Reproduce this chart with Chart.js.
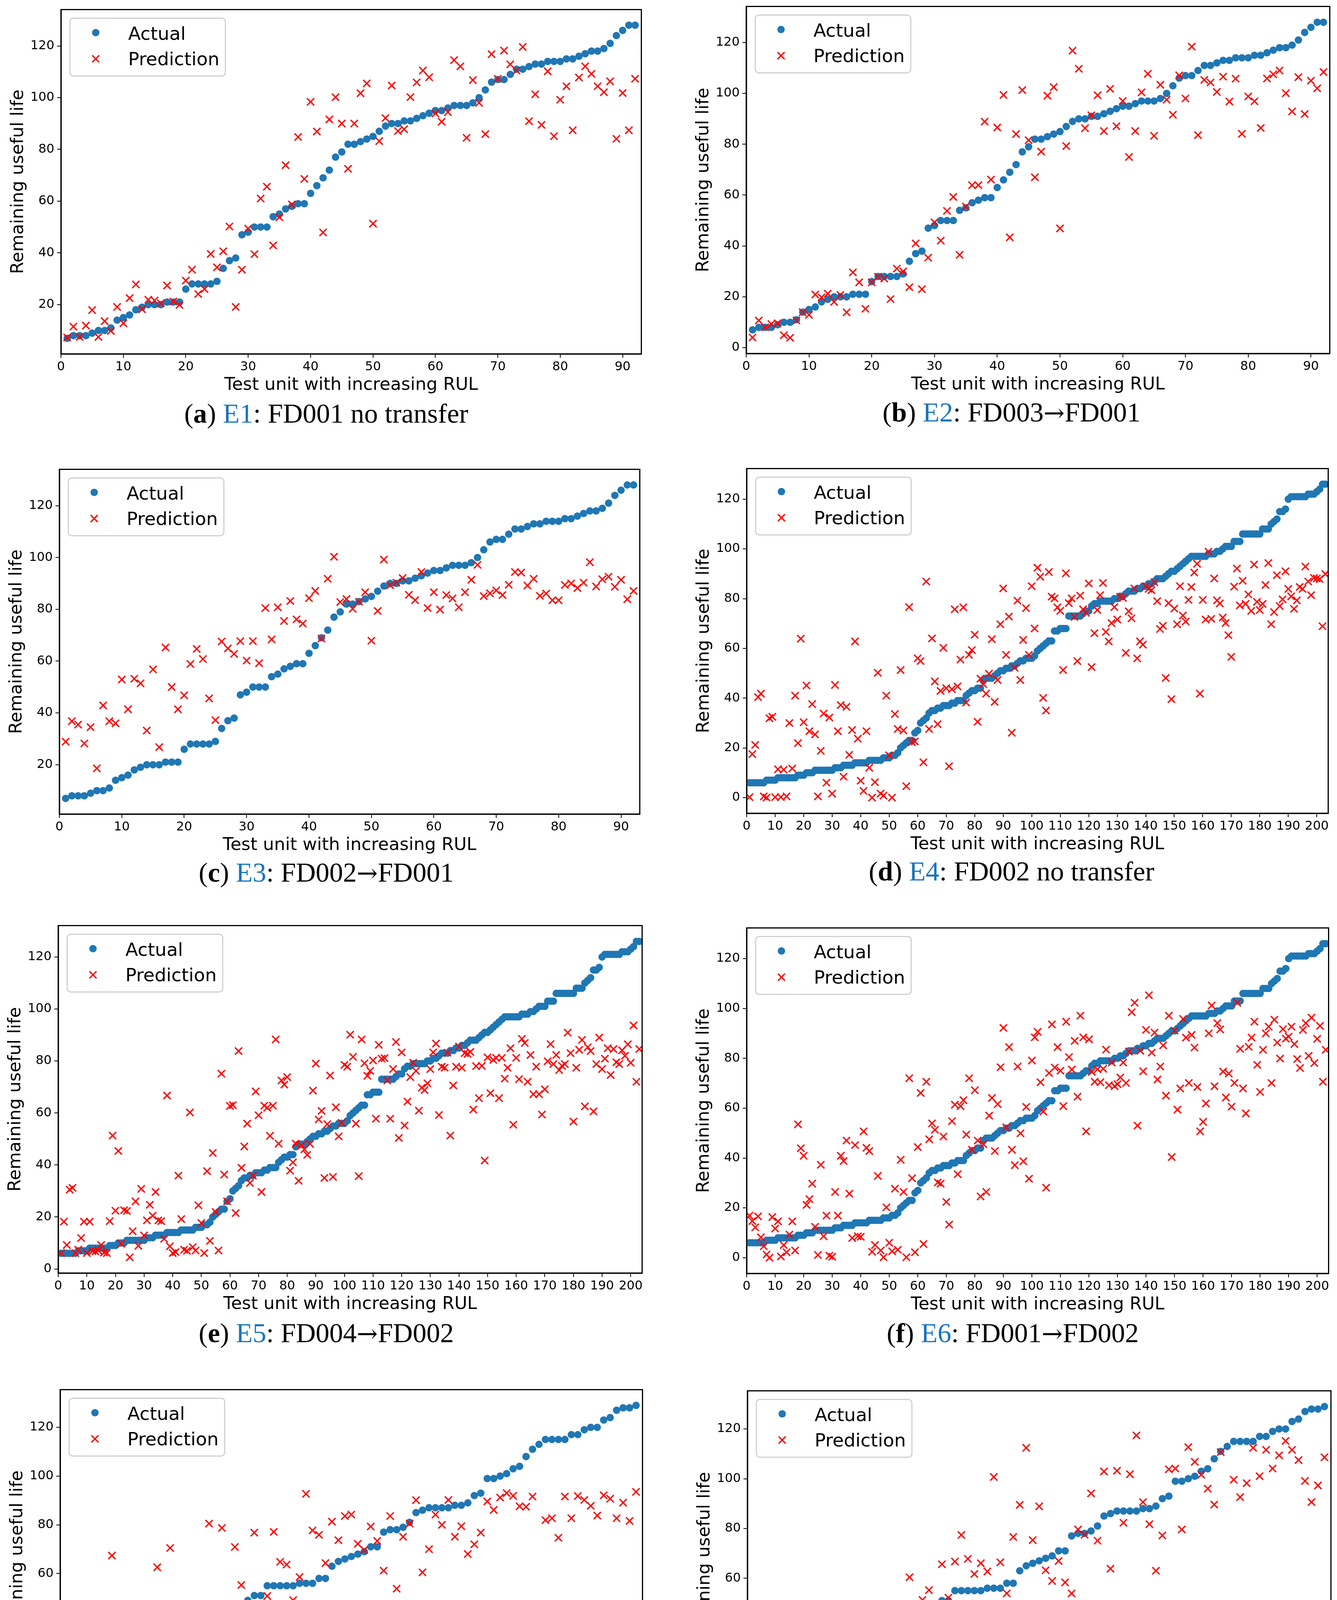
<!DOCTYPE html>
<html>
<head>
<meta charset="utf-8">
<script src="https://cdn.jsdelivr.net/npm/chart.js@4.4.1/dist/chart.umd.min.js"></script>
<style>
html, body { margin: 0; padding: 0; background: #fff; }
body { position: relative; width: 3422px; height: 4661px; overflow: hidden; }
canvas { position: absolute; }
.cap { position: absolute; transform: translate(-50%, -50%); font-family: "Liberation Serif", serif; font-size: 70px; color: #000; white-space: nowrap; }
.cap .ref { color: #1874bd; }
.cap .arr { font-family: "DejaVu Serif", serif; font-size: 0.92em; }
</style>
</head>
<body>
<script>
// FD001 test units (92), sorted by true RUL
const actualFD001 = [7,8,8,8,9,10,10,11,14,15, 16,18,19,20,20,20,21,21,21,26,
  28,28,28,28,29,34,37,38,47,48, 50,50,50,54,55,57,58,59,59,63,
  66,69,72,77,79,82,82,83,84,85, 87,89,90,90,91,91,92,93,94,95,
  95,96,97,97,97,98,100,103,106,107, 107,109,111,111,112,113,113,114,114,114,
  115,115,116,117,118,118,119,121,124,126, 128,128];

const predE1 = [7.3,11.5,7.5,11.9,17.9,7.5,13.6,9.8,19.1,12.8,
  22.5,27.8,18.2,21.9,21.6,20.5,27.4,21.2,19.9,29.3,
  33.5,24.1,26.0,39.6,34.4,40.6,50.2,19.1,33.5,49.4,
  39.5,61.0,65.6,42.9,53.8,73.9,58.7,84.8,68.6,98.4,
  86.9,47.9,91.6,100.2,90.0,72.5,90.0,101.7,105.5,51.3,
  83.2,92.1,104.7,87.1,87.8,100.2,105.9,110.5,107.9,93.9,
  90.7,94.4,114.5,112.1,84.5,106.8,98.0,85.9,116.8,107.3,
  118.2,112.9,110.5,119.6,90.9,101.3,89.5,110.2,85.1,99.2,
  104.4,87.4,107.8,112.1,109.2,104.4,102.1,106.3,84.1,101.8,
  87.4,107.3];

const predE2 = [4.0,10.7,8.0,9.3,9.6,4.9,3.9,10.7,13.9,12.9,
  20.9,19.8,21.2,18.0,20.7,13.9,29.6,25.7,15.3,25.7,
  27.9,27.2,19.1,31.1,30.0,23.8,41.0,23.0,35.4,49.3,
  42.1,53.8,59.3,36.5,55.5,63.9,63.9,88.9,66.1,86.6,
  99.4,43.4,84.0,101.3,81.6,67.0,77.1,99.1,102.5,46.9,
  79.3,116.8,109.7,86.3,91.4,99.3,85.2,101.8,87.1,97.0,
  75.0,85.2,100.4,107.7,83.3,103.4,97.5,91.6,107.1,98.0,
  118.4,83.6,105.3,104.3,100.6,106.6,96.8,105.8,84.1,98.8,
  96.9,86.4,105.9,107.5,109.0,100.1,92.9,106.4,91.9,105.0,
  102.0,108.4];

const predE3 = [28.9,36.8,35.5,28.2,34.5,18.6,42.9,36.8,36.0,52.9,
  41.4,53.2,51.4,33.2,56.8,26.8,65.3,50.0,41.4,46.8,
  58.9,64.7,60.8,45.6,37.2,67.6,64.9,62.8,67.7,60.2,
  67.7,59.2,80.5,68.4,80.8,75.5,83.2,76.1,74.5,84.3,
  87.1,68.7,91.8,100.3,82.8,84.0,80.2,82.9,86.6,67.9,
  79.4,99.2,89.3,90.3,92.1,85.6,83.5,94.4,80.5,86.6,
  79.9,85.5,84.2,80.8,86.6,91.4,97.2,85.1,86.2,87.3,
  85.5,89.5,94.4,94.2,89.2,91.8,85.2,86.1,83.5,83.5,
  89.4,90.0,88.2,90.3,98.2,88.8,91.6,92.6,88.7,91.4,
  83.9,87.1];

// FD002 test units (203)
const actualFD002 = [6,6,6,6,6,6,7,7,7,7,
  8,8,8,8,8,8,8,9,9,9,
  10,10,10,11,11,11,11,11,11,11,
  12,12,12,13,13,13,13,14,14,14,
  14,14,15,15,15,15,15,16,16,16,
  17,17,18,20,21,22,23,23,26,27,
  30,31,32,34,35,35,36,36,37,37,
  37,38,38,39,39,39,41,42,43,43,
  44,44,47,48,48,48,49,50,51,51,
  52,52,53,53,54,55,55,56,56,56,
  57,59,60,61,62,63,63,67,67,68,
  68,68,73,73,73,73,73,74,75,75,
  77,78,78,79,79,79,79,79,80,80,
  81,81,82,83,83,83,84,84,85,85,
  86,86,87,88,88,88,89,90,91,91,
  92,93,94,95,96,97,97,97,97,97,
  97,98,98,98,99,99,100,101,101,101,
  103,103,103,106,106,106,106,106,106,106,
  108,108,108,110,111,112,115,115,116,120,
  121,121,121,121,121,121,122,122,122,123,
  124,126,126];

const predE4 = [0.2,17.5,21.2,40.4,41.8,0.5,0,31.9,32.5,0.2,
  11.4,0.2,11.2,0.5,30.0,11.7,41.0,21.9,63.9,30.3,
  45.1,26.7,37.6,25.4,0.5,18.8,33.8,6.0,32.2,1.6,
  45.3,26.7,37.2,8.4,36.5,17.2,27.2,62.8,23.7,6.8,
  2.7,26.7,12.0,0,6.2,50.2,1.6,0.8,41.0,17.0,
  0,33.6,27.6,51.3,27.0,4.6,76.6,22.3,22.6,56.0,
  54.9,14.2,86.9,27.6,64.0,46.7,29.5,42.9,60.2,44.0,
  12.6,43.6,75.7,44.7,55.5,76.5,38.2,57.4,59.3,65.5,
  30.5,47.8,45.6,41.8,49.8,63.7,38.5,47.3,69.7,84.1,
  57.4,72.8,26.1,52.2,79.2,47.3,63.4,76.2,57.4,85.0,
  68.0,92.4,88.8,40.1,35.0,90.7,80.8,80.1,76.5,75.1,
  51.3,90.2,78.2,80.1,72.6,54.9,81.2,75.7,74.3,86.1,
  52.5,66.1,75.4,81.4,86.3,66.6,62.8,70.2,76.6,71.6,
  80.8,80.3,58.2,74.9,72.1,84.1,56.0,62.8,61.5,85.0,
  83.9,83.4,86.6,79.0,67.8,69.1,48.1,78.2,39.6,76.0,
  69.7,85.0,73.2,70.8,79.5,84.7,90.5,94.0,41.8,79.5,
  71.6,98.9,71.9,88.1,79.3,78.1,72.4,70.2,65.3,56.6,
  84.8,92.1,77.3,87.2,77.9,81.7,75.1,93.7,78.7,75.4,
  77.9,85.5,94.3,69.7,74.6,89.4,77.0,79.7,91.0,83.9,
  80.9,75.9,79.3,84.7,83.9,92.9,86.9,81.4,88.3,88.1,
  87.9,68.9,89.9];

const predE5 = [6.1,18.2,9.2,30.5,31.2,6.1,7.4,11.9,18.2,6.1,
  18.2,6.8,6.8,7.1,9.2,6.3,6.1,18.4,51.3,22.4,
  45.4,9.7,22.6,22.3,4.5,14.5,26.0,8.9,30.8,12.9,
  18.7,24.7,20.5,29.6,18.7,18.4,11.6,66.7,8.7,6.1,
  6.5,35.9,19.2,7.4,7.0,60.2,8.4,7.1,24.5,17.7,
  6.1,37.6,10.8,44.6,21.9,7.1,75.1,36.3,26.0,62.7,
  63.0,21.5,83.8,38.9,47.1,55.9,33.1,35.9,68.3,59.1,
  29.6,62.8,62.0,51.2,62.8,88.3,48.2,72.5,70.9,73.8,
  37.8,41.0,48.2,33.9,47.5,46.0,43.9,48.1,68.6,79.0,
  57.5,60.8,35.0,55.7,74.4,35.4,62.2,51.0,56.2,78.5,
  77.8,90.1,81.6,55.9,35.7,88.3,79.1,74.3,76.2,80.2,
  57.8,86.2,80.9,81.1,72.5,57.8,76.9,87.3,50.4,83.3,
  55.2,64.4,73.8,79.3,76.2,60.9,69.7,68.8,71.4,76.9,
  83.3,86.7,59.2,77.8,77.4,83.2,51.3,70.6,77.8,85.6,
  77.4,83.0,82.7,83.5,61.3,78.0,65.7,78.1,41.7,81.4,
  67.6,80.4,81.2,65.7,81.2,73.2,77.4,84.9,55.5,81.2,
  73.0,88.5,86.9,72.0,82.3,67.2,77.8,67.2,59.4,69.1,
  79.9,86.5,78.8,82.3,76.5,78.1,78.8,90.9,83.0,56.7,
  77.4,84.3,88.1,62.5,85.3,83.8,60.6,78.8,89.0,76.9,
  80.9,84.9,74.6,84.6,79.5,78.8,84.1,82.0,86.4,79.3,
  93.7,72.0,84.6];

const predE6 = [16.9,14.7,12.2,16.6,8.2,4.6,1.3,0,16.3,11.7,
  14.6,0.5,5.1,2.2,9.3,14.6,2.9,53.5,43.9,40.9,
  21.2,23.5,29.7,12.4,1.1,37.3,8.6,16.9,0.8,0.4,
  26.4,16.9,40.9,38.8,47.0,25.7,7.9,45.2,8.6,8.4,
  50.7,44.1,42.8,2.4,5.1,32.8,2.9,0.2,20.2,6.0,
  2.6,27.7,3.2,39.3,26.4,0.2,72.0,31.9,2.2,44.4,
  66.1,5.5,70.6,47.5,53.9,51.3,30.2,29.7,48.6,22.4,
  13.3,54.8,61.4,33.5,60.8,63.2,49.4,72.0,43.3,67.2,
  47.0,24.6,45.5,26.4,57.0,64.1,42.8,61.6,76.4,92.2,
  52.3,84.5,43.3,37.1,76.7,49.9,38.7,60.5,31.7,79.1,
  88.4,90.6,70.4,58.6,28.1,74.1,93.6,76.3,84.5,75.0,
  60.8,94.7,80.5,75.5,87.0,64.6,97.1,88.4,50.7,87.6,
  74.5,70.6,75.6,70.4,75.8,83.5,69.2,78.3,68.8,69.6,
  72.3,78.3,70.1,82.7,98.5,102.3,53.0,83.0,74.8,91.4,
  105.3,82.3,90.3,71.5,76.7,85.2,65.0,97.1,40.4,91.1,
  59.4,67.9,95.8,88.3,70.1,89.4,84.3,68.5,50.7,54.5,
  61.9,90.0,101.2,68.8,94.1,91.6,74.7,64.3,73.9,60.6,
  70.1,102.3,83.8,67.9,57.9,84.6,88.3,94.7,77.4,66.5,
  83.4,90.0,92.7,70.1,95.5,86.3,79.9,91.7,87.9,88.7,
  92.7,85.7,79.7,76.1,91.4,94.1,81.0,96.3,78.1,87.8,
  93.0,70.6,83.4];

// FD003 test units (89)
const actualFD003 = [6,7,8,8,9,10,11,11,14,15,
  17,18,18,20,22,25,27,27,28,28,
  31,35,40,41,41,44,45,45,49,51,
  51,55,55,55,55,55,56,56,56,58,
  58,63,65,66,67,68,69,71,71,77,
  78,78,79,81,85,86,87,87,87,87,
  88,88,89,92,93,99,99,100,101,103,
  104,108,111,113,115,115,115,115,117,117,
  119,120,120,123,124,127,128,128,129];

const predE7 = [19.0,26.2,17.5,18.8,17.1,14.4,24.1,67.4,19.3,40.1,
  0,29.8,43.6,25.9,62.6,1.5,70.5,21.4,38.9,33.2,
  37.0,21.8,80.5,37.8,78.7,41.9,70.9,55.3,46.1,76.8,
  43.8,50.8,77.1,64.8,63.7,49.1,58.6,92.7,77.7,75.9,
  64.3,81.3,73.7,83.6,84.2,72.2,69.7,79.3,73.4,61.2,
  83.6,53.8,75.1,80.5,90.1,60.5,70.0,84.2,80.0,90.2,
  75.1,79.4,68.0,72.0,76.8,89.6,86.1,91.2,93.0,91.9,
  87.6,87.4,91.6,37.9,81.9,82.7,74.7,91.6,82.7,91.8,
  90.2,87.8,83.8,92.1,90.7,82.7,89.1,81.6,93.5];

const predE8 = [12.0,8.3,4.6,5.5,4.0,2.3,17.8,8.6,6.6,21.3,
  11.4,18.1,19.8,20.3,23.4,15.5,23.7,20.8,26.1,30.4,
  24.5,13.9,33.2,47.0,60.4,49.4,51.3,55.2,34.0,65.6,
  52.2,66.7,77.4,67.8,61.7,66.0,62.7,100.7,66.4,53.9,
  76.6,89.5,112.4,75.3,88.9,63.2,58.9,66.9,58.3,53.9,
  79.6,77.5,94.1,75.1,102.9,63.8,103.2,82.3,101.8,117.4,
  90.6,81.7,63.0,77.2,103.8,104.1,79.6,112.7,106.8,101.6,
  96.0,89.6,110.7,48.8,99.6,92.6,98.2,112.4,101.0,111.6,
  104.1,109.4,115.2,111.6,107.5,99.1,90.6,97.3,108.6];

const xTicksFD001 = [0,10,20,30,40,50,60,70,80,90];
const xTicksFD002 = [0,10,20,30,40,50,60,70,80,90,100,110,120,130,140,150,160,170,180,190,200];
const xTicksFD003 = [0,10,20,30,40,50,60,70,80];
const yTicks = [0,20,40,60,80,100,120];

const seriesNames = ['Actual', 'Prediction'];
const xTitle = 'Test unit with increasing RUL';
const yTitle = 'Remaining useful life';

// layout: plot area [left, top, right, bottom] and caption centre, in page pixels
const panels = [
  {tag: 'a', ref: 'E1', from: 'FD001', to: null, actual: actualFD001, pred: predE1, xt: xTicksFD001, area: [156, 20, 1644, 906], cap: [835, 1059]},
  {tag: 'b', ref: 'E2', from: 'FD003', to: 'FD001', actual: actualFD001, pred: predE2, xt: xTicksFD001, area: [1910, 12, 3406, 905], cap: [2589, 1056]},
  {tag: 'c', ref: 'E3', from: 'FD002', to: 'FD001', actual: actualFD001, pred: predE3, xt: xTicksFD001, area: [152, 1197, 1640, 2084], cap: [835, 2234]},
  {tag: 'd', ref: 'E4', from: 'FD002', to: null, actual: actualFD002, pred: predE4, xt: xTicksFD002, area: [1911, 1195, 3402, 2082], cap: [2589, 2231]},
  {tag: 'e', ref: 'E5', from: 'FD004', to: 'FD002', actual: actualFD002, pred: predE5, xt: xTicksFD002, area: [149, 2365, 1646, 3259], cap: [835, 3413]},
  {tag: 'f', ref: 'E6', from: 'FD001', to: 'FD002', actual: actualFD002, pred: predE6, xt: xTicksFD002, area: [1911, 2371, 3403, 3260], cap: [2592, 3413]},
  {tag: 'g', ref: 'E7', from: 'FD003', to: null, actual: actualFD003, pred: predE7, xt: xTicksFD003, area: [154, 3553, 1647, 4443], cap: [834, 4596]},
  {tag: 'h', ref: 'E8', from: 'FD001', to: 'FD003', actual: actualFD003, pred: predE8, xt: xTicksFD003, area: [1913, 3556, 3409, 4448], cap: [2592, 4593]}
];

const BLUE = '#1f77b4';
const RED = '#ff0000';
const YW = 150, XH = 112, PAD_T = 12, PAD_R = 14;

Chart.defaults.font.family = 'DejaVu Sans';
Chart.defaults.color = '#000';

// black box round the plot area
const frame = {
  id: 'frame',
  afterDraw(chart) {
    const a = chart.chartArea, ctx = chart.ctx;
    ctx.save();
    ctx.strokeStyle = '#000';
    ctx.lineWidth = 3;
    ctx.strokeRect(a.left, a.top, a.right - a.left, a.bottom - a.top);
    ctx.restore();
  }
};

// matplotlib-like legend inside the upper left corner
const legendBox = {
  id: 'legendBox',
  afterDatasetsDraw(chart) {
    const a = chart.chartArea, ctx = chart.ctx;
    const bx = a.left + 23, by = a.top + 22;
    ctx.save();
    ctx.beginPath();
    ctx.roundRect(bx, by, 398, 148, 9);
    ctx.fillStyle = 'rgba(255,255,255,0.8)';
    ctx.fill();
    ctx.lineWidth = 3;
    ctx.strokeStyle = '#d0d0d0';
    ctx.stroke();

    const mx = bx + 66;
    // Actual
    ctx.beginPath();
    ctx.arc(mx, by + 37, 9.5, 0, Math.PI * 2);
    ctx.fillStyle = BLUE;
    ctx.fill();
    // Prediction
    const cy = by + 104, h = 9;
    ctx.beginPath();
    ctx.moveTo(mx - h, cy - h); ctx.lineTo(mx + h, cy + h);
    ctx.moveTo(mx - h, cy + h); ctx.lineTo(mx + h, cy - h);
    ctx.strokeStyle = RED;
    ctx.lineWidth = 3.5;
    ctx.stroke();

    ctx.fillStyle = '#000';
    ctx.font = '47px "DejaVu Sans"';
    ctx.textBaseline = 'alphabetic';
    ctx.textAlign = 'left';
    ctx.fillText(seriesNames[0], bx + 149, by + 55);
    ctx.fillText(seriesNames[1], bx + 149, by + 120);
    ctx.restore();
  }
};

function yLimits(a, b) {
  const all = a.concat(b);
  const lo = Math.min(...all), hi = Math.max(...all);
  const m = (hi - lo) * 0.05;
  return [lo - m, hi + m];
}

panels.forEach(p => {
  const [L, T, R, B] = p.area;
  const w = YW + (R - L) + PAD_R;
  const h = PAD_T + (B - T) + XH;
  const cv = document.createElement('canvas');
  cv.width = w; cv.height = h;
  cv.style.left = (L - YW) + 'px';
  cv.style.top = (T - PAD_T) + 'px';
  cv.style.width = w + 'px';
  cv.style.height = h + 'px';
  document.body.appendChild(cv);

  const [ymin, ymax] = yLimits(p.actual, p.pred);
  const n = p.actual.length;

  new Chart(cv.getContext('2d'), {
    type: 'scatter',
    data: {
      datasets: [{
        label: seriesNames[0],
        data: p.actual.map((v, i) => ({x: i + 1, y: v})),
        pointStyle: 'circle',
        pointRadius: 9.5,
        pointBackgroundColor: BLUE,
        pointBorderWidth: 0,
        order: 1
      }, {
        label: seriesNames[1],
        data: p.pred.map((v, i) => ({x: i + 1, y: v})),
        pointStyle: 'crossRot',
        pointRadius: 13,
        pointBorderColor: RED,
        pointBackgroundColor: RED,
        pointBorderWidth: 3.5,
        order: 0
      }]
    },
    options: {
      responsive: false,
      animation: false,
      devicePixelRatio: 1,
      events: [],
      layout: {padding: {top: PAD_T, right: PAD_R, left: 0, bottom: 0}},
      plugins: {legend: {display: false}, tooltip: {enabled: false}},
      scales: {
        x: {
          type: 'linear',
          min: 0,
          max: n + 1,
          afterBuildTicks: s => { s.ticks = p.xt.map(v => ({value: v})); },
          afterFit: s => { s.height = XH; s.paddingLeft = 0; s.paddingRight = 0; },
          grid: {drawOnChartArea: false, drawTicks: true, tickLength: 10, color: '#000', lineWidth: 2},
          border: {display: true, color: '#000', width: 3},
          ticks: {font: {size: 32}, color: '#000', padding: 4, maxRotation: 0, autoSkip: false},
          title: {display: true, text: xTitle, font: {size: 45}, color: '#000', padding: {top: 0, bottom: 5}}
        },
        y: {
          type: 'linear',
          min: ymin,
          max: ymax,
          afterBuildTicks: s => { s.ticks = yTicks.filter(v => v >= ymin && v <= ymax).map(v => ({value: v})); },
          afterFit: s => { s.width = YW; s.paddingTop = 0; s.paddingBottom = 0; },
          grid: {drawOnChartArea: false, drawTicks: true, tickLength: 10, color: '#000', lineWidth: 2},
          border: {display: true, color: '#000', width: 3},
          ticks: {font: {size: 32}, color: '#000', padding: 7},
          title: {display: true, text: yTitle, font: {size: 45}, color: '#000', padding: {top: 14, bottom: 0}}
        }
      }
    },
    plugins: [frame, legendBox]
  });

  const cap = document.createElement('div');
  cap.className = 'cap';
  cap.style.left = p.cap[0] + 'px';
  cap.style.top = p.cap[1] + 'px';
  let rest = ': ' + p.from;
  rest += p.to ? '<span class="arr">\u2192</span>' + p.to : ' no transfer';
  cap.innerHTML = '(<b>' + p.tag + '</b>) <span class="ref">' + p.ref + '</span>' + rest;
  document.body.appendChild(cap);
});
</script>
</body>
</html>
